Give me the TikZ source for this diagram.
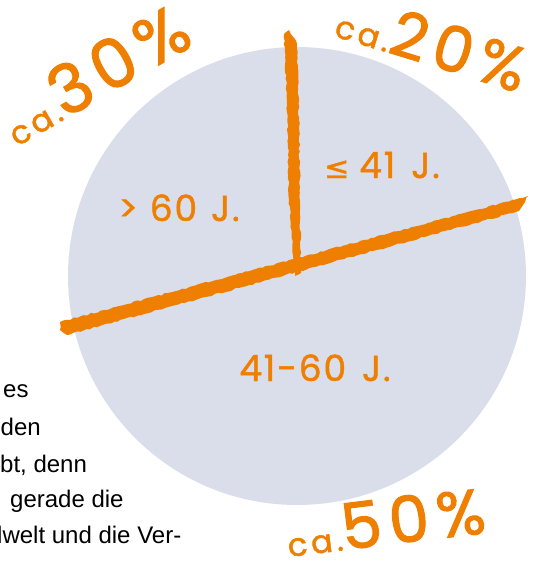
\documentclass[tikz,border=0pt]{standalone}
\usepackage{fontspec}
\setmainfont{Liberation Sans}
\newfontfamily\hand[FakeBold=1.3,LetterSpace=5]{Poppins}
\newfontfamily\handbig[FakeBold=1.6,LetterSpace=12]{Poppins}
\newfontfamily\dvsans[FakeBold=1.2]{DejaVu Sans}
\usetikzlibrary{decorations.pathmorphing}
\definecolor{pie}{RGB}{218,222,234}
\definecolor{org}{RGB}{239,127,0}
\begin{document}
\begin{tikzpicture}[x=1pt,y=-1pt,
  lbl/.style={text=org,inner sep=0pt,anchor=base},
  big/.style={text=org,inner sep=0pt,anchor=base west},
  body/.style={font=\fontsize{24}{36}\selectfont,inner sep=0pt,anchor=base west,text=black},
  stroke/.style={fill=org,decorate,decoration={random steps,segment length=3.5pt,amplitude=0.8pt}}]
\useasboundingbox (0,0) rectangle (537,566);
\pgfmathsetseed{7}
% pie
\fill[pie] (297,276) circle[radius=229pt];
% strokes
\fill[stroke] (284,34) -- (289,30) -- (297,44) -- (299,120) -- (301,273) -- (295,276) -- (289,200) -- (287,100) -- cycle;
\fill[stroke] (60,322) -- (528,196) -- (519,211) -- (67,335) -- (60,330) -- cycle;
% segment labels
\node[lbl,font=\hand\fontsize{36}{36}\selectfont] (a) at (179,221) {>\hspace{12pt}60\hspace{14pt}J.};
\node[lbl,font=\hand\fontsize{36}{36}\selectfont] (b) at (382,178) {{\dvsans\fontsize{30}{30}\selectfont\char"2264}\hspace{10pt}41\hspace{16pt}J.};
\node[lbl,font=\hand\fontsize{36}{36}\selectfont] (c) at (315,381) {41-60\hspace{16pt}J.};
% percentages
\node[big,rotate=30] (p30) at (17,147) {{\handbig\fontsize{32}{32}\selectfont ca.}{\handbig\fontsize{68}{68}\selectfont 30\%}};
\node[big,rotate=-17] (p20) at (333,36) {{\handbig\fontsize{32}{32}\selectfont ca.}{\handbig\fontsize{63}{63}\selectfont 20\%}};
\node[big,rotate=7] (p50) at (289,557) {{\handbig\fontsize{32}{32}\selectfont ca.}{\handbig\fontsize{64}{64}\selectfont 50\%}};
% body text
\node[body] (t1) at (3,397) {es};
\node[body] (t2) at (0.5,435) {den};
\node[body] (t3) at (0,472) {bt, denn};
\node[body] (t4) at (10,507) {gerade die};
\node[body] (t5) at (-11,543) {dwelt und die Ver-};
\end{tikzpicture}
\end{document}
